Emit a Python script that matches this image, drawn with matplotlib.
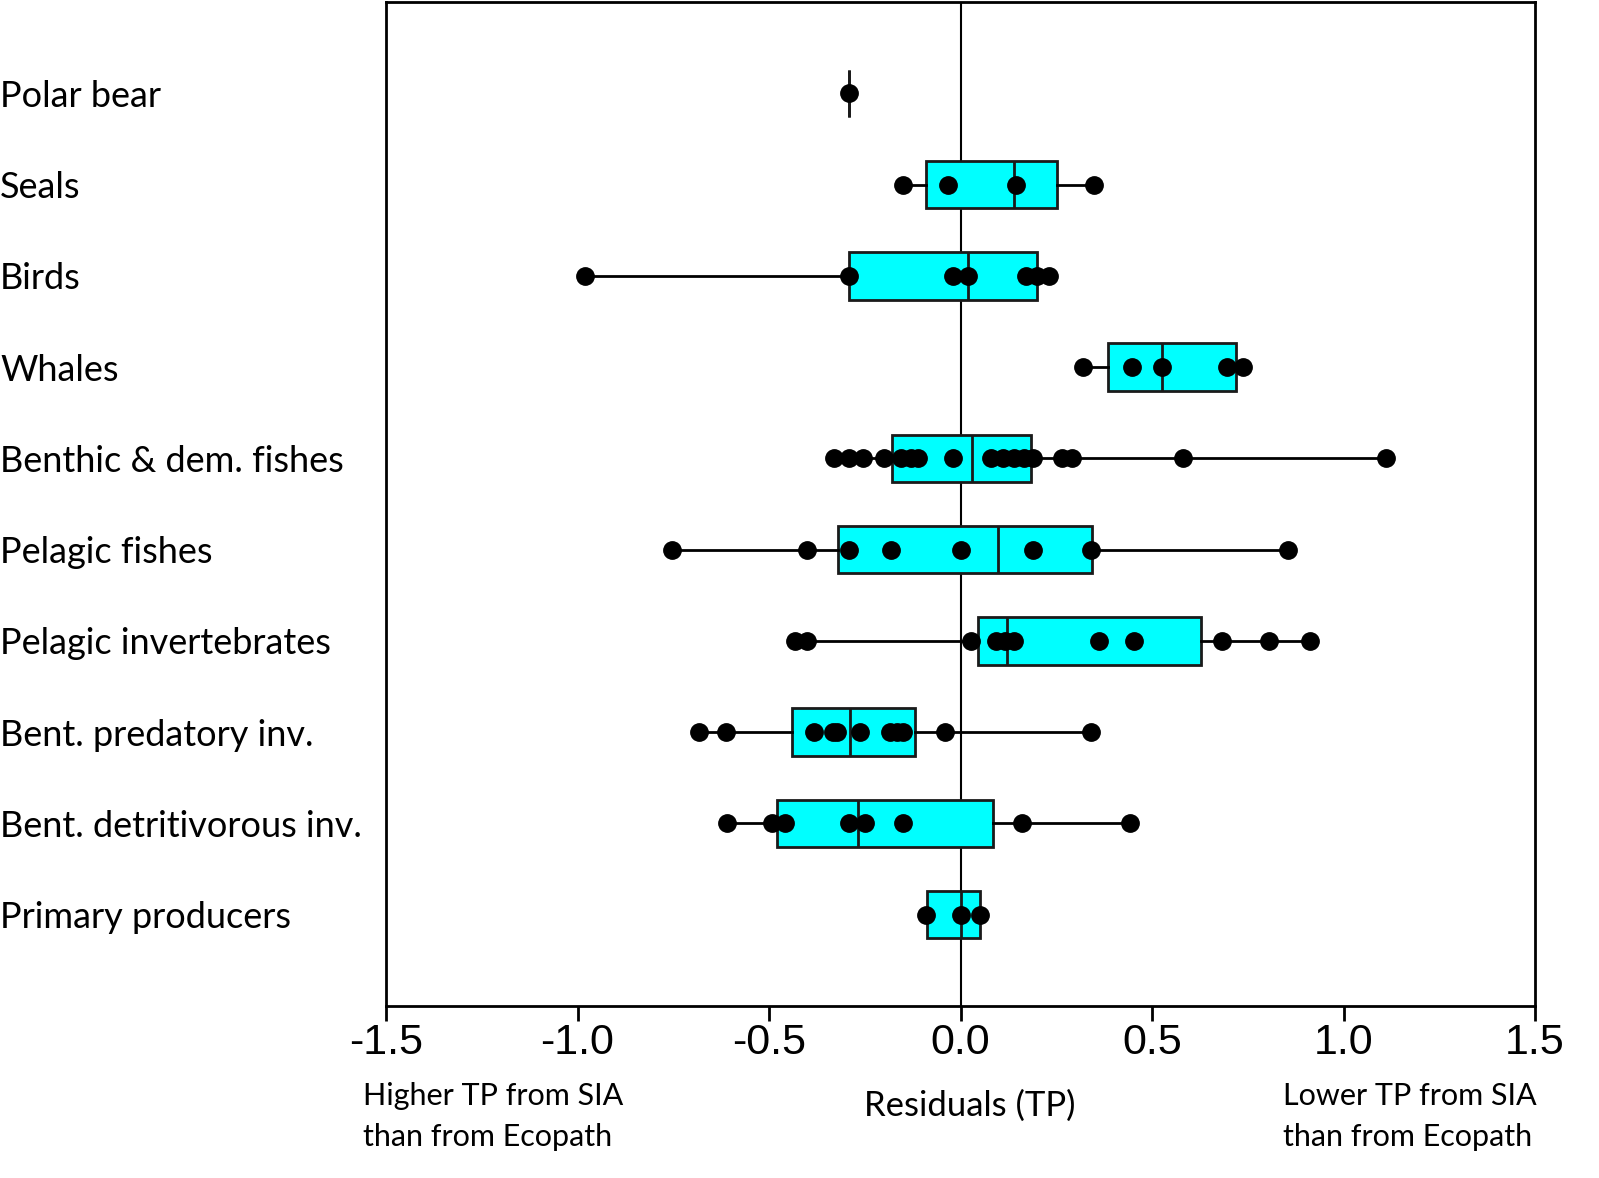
import matplotlib.pyplot as plt

# --- Donnees ---
groupes = ["Polar bear", "Seals", "Birds", "Whales", "Benthic & dem. fishes",
           "Pelagic fishes", "Pelagic invertebrates", "Bent. predatory inv.",
           "Bent. detritivorous inv.", "Primary producers"]

polar_bear = [-0.29]
seals = [-0.15, -0.032, 0.144, 0.348]
birds = [-0.98, -0.29, -0.02, 0.02, 0.17, 0.20, 0.23]
whales = [0.32, 0.447, 0.527, 0.697, 0.737]
benthic_fish = [-0.33, -0.29, -0.255, -0.20, -0.155, -0.13, -0.11, -0.02, 0.08,
                0.11, 0.14, 0.165, 0.19, 0.265, 0.29, 0.58, 1.112]
pelagic_fish = [-0.752, -0.402, -0.291, -0.181, 0.0, 0.19, 0.34, 0.855]
pelagic_inv = [-0.432, -0.40, 0.027, 0.093, 0.115, 0.14, 0.362, 0.452, 0.683,
               0.805, 0.913]
bent_pred = [-0.682, -0.611, -0.382, -0.333, -0.322, -0.262, -0.184, -0.165,
             -0.15, -0.04, 0.341]
bent_detr = [-0.609, -0.493, -0.459, -0.291, -0.249, -0.15, 0.161, 0.443]
prim_prod = [-0.089, 0.0, 0.051]

residus = [polar_bear, seals, birds, whales, benthic_fish, pelagic_fish,
           pelagic_inv, bent_pred, bent_detr, prim_prod]

# quartiles tels que dessines dans la figure
q1 = [-0.29, -0.09, -0.29, 0.385, -0.18, -0.32, 0.045, -0.44, -0.48, -0.088]
mediane = [-0.29, 0.14, 0.02, 0.527, 0.031, 0.097, 0.122, -0.289, -0.268, 0.0]
q3 = [-0.29, 0.252, 0.20, 0.72, 0.184, 0.344, 0.628, -0.12, 0.085, 0.05]

ticks_x = [-1.5, -1.0, -0.5, 0.0, 0.5, 1.0, 1.5]

fig = plt.figure(figsize=(15.99, 11.78), dpi=100)
ax = fig.add_axes([386 / 1599, 1 - 1006 / 1178, (1535 - 386) / 1599, 1004 / 1178])

n = len(groupes)
pos = [n - i for i in range(n)]

stats = []
for i, r in enumerate(residus):
    stats.append(dict(med=mediane[i], q1=q1[i], q3=q3[i],
                      whislo=min(r), whishi=max(r), fliers=[]))

ax.axvline(0, color='black', linewidth=1.5, zorder=1)

ax.bxp(stats, positions=pos, orientation='horizontal', widths=0.52,
       patch_artist=True, showcaps=False,
       boxprops=dict(facecolor='#00FFFF', edgecolor='#1a1a1a', linewidth=2),
       medianprops=dict(color='#1a1a1a', linewidth=2),
       whiskerprops=dict(color='black', linewidth=2))

# points individuels
for p, r in zip(pos, residus):
    ax.plot(r, [p] * len(r), 'o', color='black', markersize=12.5, zorder=5)

ax.set_xlim(-1.5, 1.5)
ax.set_ylim(0, n + 1)
ax.set_xticks(ticks_x)
ax.set_xticklabels([f"{t:.1f}" for t in ticks_x], family='Liberation Sans',
                   fontsize=31)
ax.tick_params(axis='x', direction='out', length=11, width=2, pad=1)

ax.set_yticks(pos)
ax.set_yticklabels(groupes, family='Lato', fontsize=26, ha='left')
ax.tick_params(axis='y', length=0, pad=386 * 0.72)

for s in ax.spines.values():
    s.set_linewidth(2)

fig.text(363 / 1599, 1 - 1082 / 1178, "Higher TP from SIA\nthan from Ecopath",
         family='Lato', fontsize=22, ha='left', va='top', linespacing=1.55)
fig.text(1283 / 1599, 1 - 1082 / 1178, "Lower TP from SIA\nthan from Ecopath",
         family='Lato', fontsize=22, ha='left', va='top', linespacing=1.55)
fig.text(970 / 1599, 1 - 1106 / 1178, "Residuals (TP)",
         family='Lato', fontsize=25, ha='center', va='center')

plt.savefig('out.png', dpi=100)
